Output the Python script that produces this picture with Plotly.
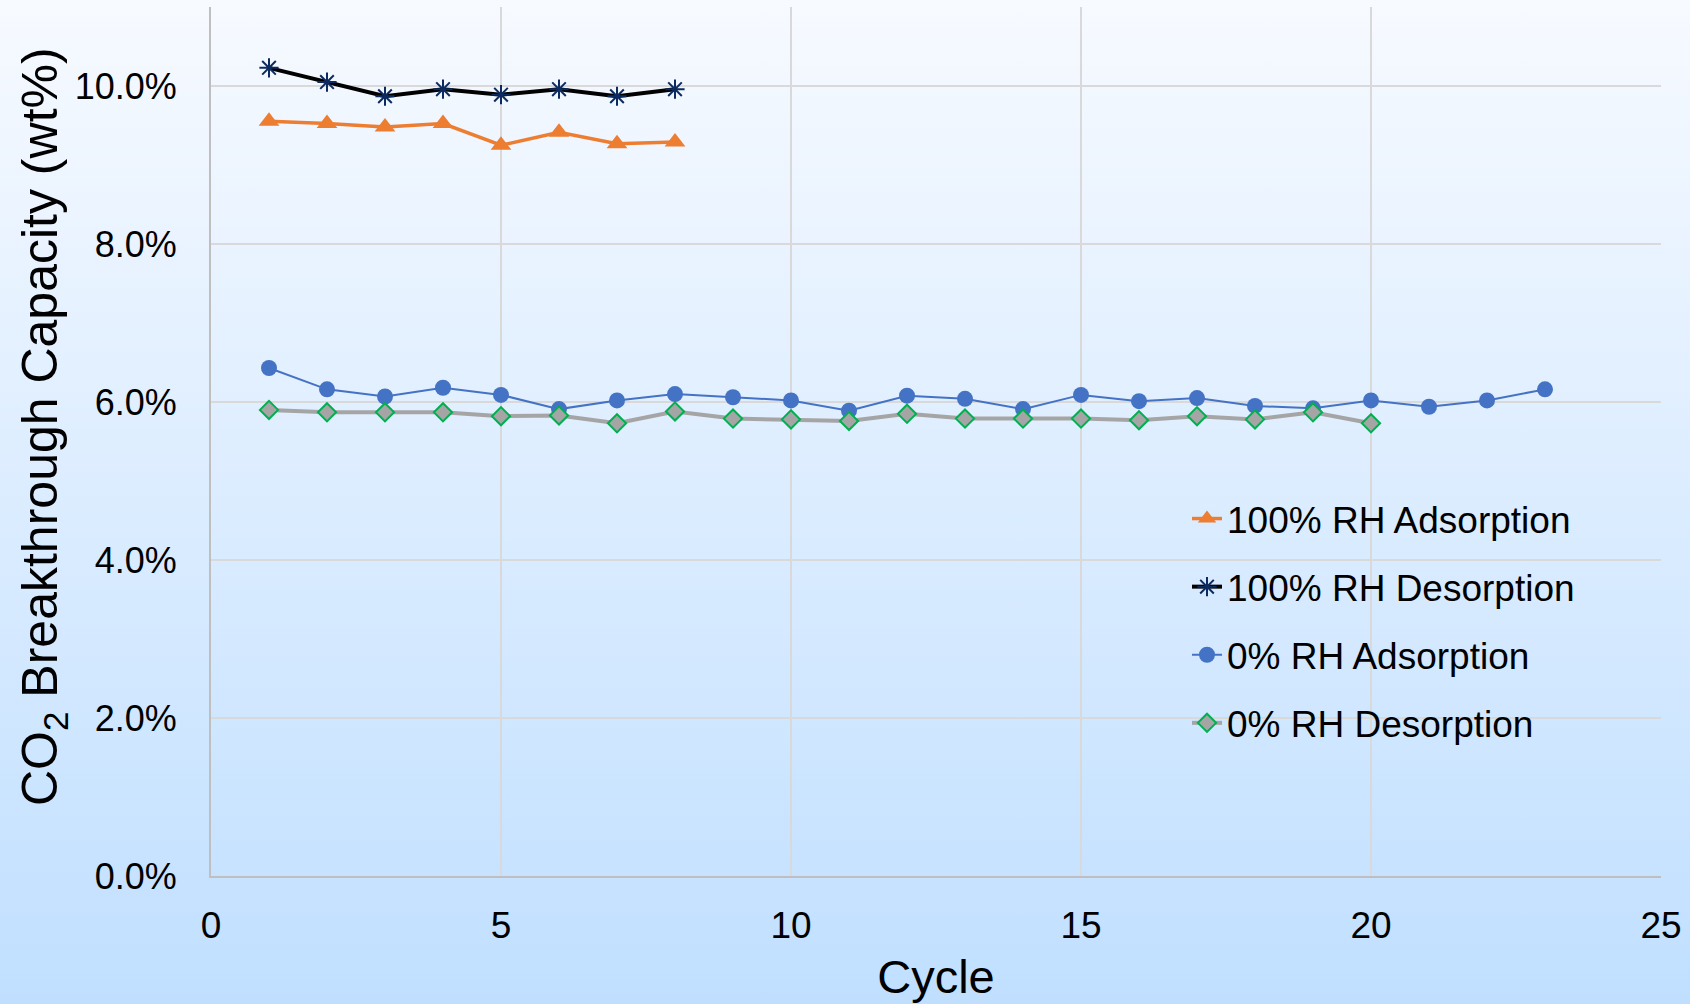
import base64
import plotly.graph_objects as go

# CO2 breakthrough capacity (wt%) over repeated adsorption/desorption cycles
cycles_100rh = [1, 2, 3, 4, 5, 6, 7, 8]
ads_100rh = [9.555, 9.525, 9.48, 9.525, 9.25, 9.415, 9.27, 9.29]
des_100rh = [10.23, 10.05, 9.87, 9.96, 9.89, 9.96, 9.87, 9.96]

cycles_0rh_ads = list(range(1, 24))
ads_0rh = [6.43, 6.16, 6.07, 6.18, 6.09, 5.91, 6.02, 6.10, 6.06, 6.02, 5.89, 6.08,
           6.04, 5.91, 6.09, 6.01, 6.05, 5.95, 5.92, 6.02, 5.94, 6.02, 6.16]

cycles_0rh_des = list(range(1, 21))
des_0rh = [5.90, 5.87, 5.87, 5.87, 5.82, 5.83, 5.73, 5.88, 5.79, 5.78, 5.76, 5.85,
           5.79, 5.79, 5.79, 5.77, 5.82, 5.78, 5.87, 5.73]

x_ticks = [0, 5, 10, 15, 20, 25]
y_ticks = [0, 2, 4, 6, 8, 10]

W, H = 1690, 1004
ML, MR, MT, MB = 211, 29, 7, 128
PW, PH = W - ML - MR, H - MT - MB

FONT = "Liberation Sans, Arial, sans-serif"

fig = go.Figure()

fig.add_trace(go.Scatter(
    x=cycles_100rh, y=ads_100rh, name="100% RH Adsorption", mode="lines+markers",
    line=dict(color="#ED7D31", width=3.5),
    marker=dict(symbol="triangle-up", size=18, color="#ED7D31"),
    legendgroup="a",
))
fig.add_trace(go.Scatter(
    x=cycles_100rh, y=des_100rh, name="100% RH Desorption", mode="lines+markers",
    line=dict(color="#000000", width=4),
    marker=dict(symbol="asterisk-open", size=16, color="#0B2A5F",
                line=dict(color="#0B2A5F", width=2)),
    legendgroup="b",
))
fig.add_trace(go.Scatter(
    x=cycles_0rh_ads, y=ads_0rh, name="0% RH Adsorption", mode="lines+markers",
    line=dict(color="#4472C4", width=2),
    marker=dict(symbol="circle", size=16, color="#4472C4"),
    legendgroup="c",
))
fig.add_trace(go.Scatter(
    x=cycles_0rh_des, y=des_0rh, name="0% RH Desorption", mode="lines+markers",
    line=dict(color="#A5A5A5", width=4),
    marker=dict(symbol="diamond", size=14, color="#A5A5A5",
                line=dict(color="#00B050", width=2)),
    legendgroup="d",
))

# vertical light-blue gradient behind the whole figure
svg = (
    f'<svg xmlns="http://www.w3.org/2000/svg" width="{W}" height="{H}" '
    f'preserveAspectRatio="none">'
    '<defs><linearGradient id="g" x1="0" y1="0" x2="0" y2="1">'
    '<stop offset="0" stop-color="#F7FAFF"/>'
    '<stop offset="1" stop-color="#C0DFFF"/>'
    '</linearGradient></defs>'
    f'<rect width="{W}" height="{H}" fill="url(#g)"/></svg>'
)
bg_uri = "data:image/svg+xml;base64," + base64.b64encode(svg.encode()).decode()

fig.add_layout_image(dict(
    source=bg_uri, xref="paper", yref="paper",
    x=-ML / PW, y=1 + MT / PH, sizex=W / PW, sizey=H / PH,
    xanchor="left", yanchor="top", sizing="stretch", layer="below",
))

# y-axis title placed as an annotation
fig.add_annotation(
    text="CO<sub>2</sub> Breakthrough Capacity (wt%)",
    xref="paper", yref="paper", x=(43 - ML) / PW, y=1 - (427 - MT) / PH,
    textangle=-90, showarrow=False, xanchor="center", yanchor="middle",
    font=dict(family=FONT, size=50, color="#000000"),
)

fig.update_layout(
    width=W, height=H,
    margin=dict(l=ML, r=MR, t=MT, b=MB, pad=0),
    paper_bgcolor="#C0DFFF",
    plot_bgcolor="rgba(0,0,0,0)",
    font=dict(family=FONT, color="#000000"),
    showlegend=True,
    legend=dict(
        x=(1187 - ML) / PW, y=1 - (488 - MT) / PH, xanchor="left", yanchor="top",
        bgcolor="rgba(0,0,0,0)", borderwidth=0,
        font=dict(family=FONT, size=37, color="#000000"),
        tracegroupgap=17, traceorder="grouped",
    ),
    xaxis=dict(
        range=[0, 25], tickvals=x_ticks, ticktext=[str(v) for v in x_ticks],
        showgrid=True, gridcolor="#D9D9D9", gridwidth=1.5,
        showline=True, linecolor="#BFBFBF", linewidth=2, zeroline=False,
        ticks="outside", ticklen=16, tickcolor="rgba(0,0,0,0)",
        tickfont=dict(family=FONT, size=37, color="#000000"),
        title=dict(text="Cycle", font=dict(family=FONT, size=47, color="#000000"),
                   standoff=15),
    ),
    yaxis=dict(
        range=[0, 11], tickvals=y_ticks, ticktext=[f"{v:.1f}%" for v in y_ticks],
        showgrid=True, gridcolor="#D9D9D9", gridwidth=1.5,
        showline=True, linecolor="#BFBFBF", linewidth=2, zeroline=False,
        ticks="outside", ticklen=25, tickcolor="rgba(0,0,0,0)",
        tickfont=dict(family=FONT, size=36, color="#000000"),
    ),
)

fig.write_html("out.html")
